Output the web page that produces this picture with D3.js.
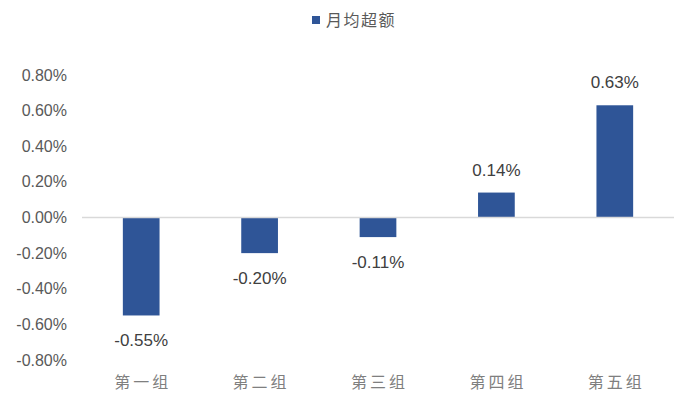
<!DOCTYPE html>
<html><head><meta charset="utf-8">
<script src="https://cdn.jsdelivr.net/npm/d3@7"></script>
<style>body{margin:0;background:#fff}</style>
</head><body>
<svg id="c" width="681" height="402"></svg>
<script>
const categories = ["第一组","第二组","第三组","第四组","第五组"];
const values = [-0.55, -0.20, -0.11, 0.14, 0.63];
const yTicks = [0.8,0.6,0.4,0.2,0,-0.2,-0.4,-0.6,-0.8];
const seriesName = "月均超额";

const svg = d3.select("#c");
const x = d3.scaleBand().domain(categories).range([82, 674]).paddingInner(0.69).paddingOuter(0.345);
const y = d3.scaleLinear().domain([-0.8, 0.8]).range([360, 75]);
const color = "#2F5597";

// y tick labels
svg.append("g").selectAll("text").data(yTicks).join("text")
  .attr("x", 67).attr("y", d => y(d)).attr("dy", "0.35em")
  .attr("text-anchor", "end")
  .attr("font-family", "Liberation Sans, Arial, sans-serif")
  .attr("font-size", 16).attr("fill", "#595959")
  .text(d => d.toFixed(2) + "%");

// bars
svg.append("g").selectAll("rect").data(values).join("rect")
  .attr("x", (d,i) => x(categories[i]))
  .attr("width", x.bandwidth())
  .attr("y", d => y(Math.max(0,d)))
  .attr("height", d => Math.abs(y(d) - y(0)))
  .attr("fill", color);

// zero line
svg.append("line").attr("x1", 82).attr("x2", 674).attr("y1", y(0)).attr("y2", y(0))
  .attr("stroke", "#d9d9d9").attr("stroke-width", 1.5);

// value labels
svg.append("g").selectAll("text").data(values).join("text")
  .attr("x", (d,i) => x(categories[i]) + x.bandwidth()/2)
  .attr("y", d => d >= 0 ? y(d) - 17 : y(d) + 31)
  .attr("text-anchor", "middle")
  .attr("font-family", "Liberation Sans, Arial, sans-serif")
  .attr("font-size", 17).attr("fill", "#404040")
  .text(d => d.toFixed(2) + "%");

// category labels
svg.append("g").selectAll("text").data(categories).join("text")
  .attr("x", d => x(d) + x.bandwidth()/2 + 1.5)
  .attr("y", 388)
  .attr("text-anchor", "middle")
  .attr("font-family", "Noto Sans CJK SC, sans-serif")
  .attr("font-size", 16).attr("letter-spacing", 3).attr("fill", "#7f7f7f")
  .text(d => d);

// legend
svg.append("rect").attr("x", 312).attr("y", 16).attr("width", 8).attr("height", 8).attr("fill", color);
svg.append("text").attr("x", 326).attr("y", 20).attr("dy", "0.35em")
  .attr("font-family", "Noto Sans CJK SC, sans-serif")
  .attr("font-size", 16).attr("letter-spacing", 1.5).attr("fill", "#595959").text(seriesName);
</script>
</body></html>
